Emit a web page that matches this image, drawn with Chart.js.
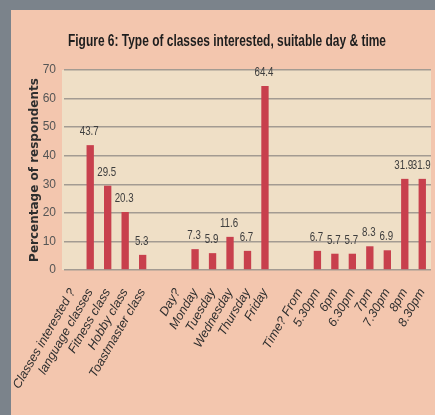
<!DOCTYPE html>
<html>
<head>
<meta charset="utf-8">
<script src="https://cdn.jsdelivr.net/npm/chart.js@4.4.1/dist/chart.umd.min.js"></script>
<style>
  html, body { margin: 0; padding: 0; background: #f3c6ae; }
  #wrap { width: 435px; height: 415px; position: relative; }
</style>
</head>
<body>
<div id="wrap"><canvas id="c" width="435" height="415"></canvas></div>
<script>
const categories = [
  'Classes interested ?', 'language classes', 'Fitness class', 'Hobby class', 'Toastmaster class',
  '', 'Day?', 'Monday', 'Tuesday', 'Wednesday', 'Thursday', 'Friday',
  '', 'Time? From', '5.30pm', '6pm', '6.30pm', '7pm', '7.30pm', '8pm', '8.30pm'
];
const percentages = [
  null, 43.7, 29.5, 20.3, 5.3,
  null, null, 7.3, 5.9, 11.6, 6.7, 64.4,
  null, null, 6.7, 5.7, 5.7, 8.3, 6.9, 31.9, 31.9
];
const yTicks = [0, 10, 20, 30, 40, 50, 60, 70];
const titleText = 'Figure 6: Type of classes interested, suitable day & time';
const yTitle = 'Percentage of respondents';

const SANS = "'Liberation Sans', Arial, sans-serif";

// draw text horizontally condensed (the original uses a narrow typeface)
function condensedText(ctx, text, x, y, squeeze) {
  ctx.save();
  ctx.translate(x, y);
  ctx.scale(squeeze, 1);
  ctx.fillText(text, 0, 0);
  ctx.restore();
}

const backdrop = {
  id: 'backdrop',
  beforeDraw(chart) {
    const ctx = chart.ctx, w = chart.width, h = chart.height, a = chart.chartArea;
    ctx.save();
    ctx.fillStyle = '#f3c6ae';
    ctx.fillRect(0, 0, w, h);
    ctx.fillStyle = '#7b838b';
    ctx.fillRect(0, 0, w, 10);
    ctx.fillRect(0, 0, 11, h);
    ctx.fillStyle = '#efdfc6';
    ctx.fillRect(a.left - 2, a.top, a.right - a.left + 2, a.bottom - a.top);
    ctx.restore();
  },
  afterDraw(chart) {
    const ctx = chart.ctx;
    ctx.save();
    ctx.fillStyle = '#1e1e1e';
    ctx.font = "bold 17px " + SANS;
    ctx.textAlign = 'left';
    ctx.textBaseline = 'middle';
    const natural = ctx.measureText(titleText).width;
    const target = 318;
    condensedText(ctx, titleText, 227 - target / 2, 41, target / natural);
    ctx.restore();
  }
};

const valueLabels = {
  id: 'valueLabels',
  afterDatasetsDraw(chart) {
    const ctx = chart.ctx;
    const meta = chart.getDatasetMeta(0);
    ctx.save();
    ctx.fillStyle = '#3d3d3d';
    ctx.font = "13.5px " + SANS;
    ctx.textAlign = 'center';
    ctx.textBaseline = 'alphabetic';
    meta.data.forEach((bar, i) => {
      const v = percentages[i];
      if (v === null) return;
      condensedText(ctx, String(v), bar.x - 1, bar.y - 10, 0.72);
    });
    ctx.restore();
  }
};

new Chart(document.getElementById('c'), {
  type: 'bar',
  data: {
    labels: categories,
    datasets: [{
      data: percentages,
      backgroundColor: '#c8404d',
      borderWidth: 0,
      barPercentage: 0.42,
      categoryPercentage: 1.0
    }]
  },
  options: {
    responsive: false,
    animation: false,
    devicePixelRatio: 1,
    layout: { padding: { top: 70, left: 0, right: 4, bottom: 0 } },
    plugins: {
      legend: { display: false },
      tooltip: { enabled: false },
      title: { display: false }
    },
    scales: {
      x: {
        grid: { display: false },
        border: { display: false },
        ticks: {
          autoSkip: false,
          minRotation: 60,
          maxRotation: 60,
          padding: 8,
          color: '#2e2e2e',
          font: { family: SANS, size: 12.5, style: 'italic' }
        },
        afterFit(scale) {
          scale.height = 145;
          scale.paddingLeft = 0;
          scale.paddingRight = 0;
        }
      },
      y: {
        min: 0,
        max: 70,
        afterBuildTicks(scale) { scale.ticks = yTicks.map(v => ({ value: v })); },
        grid: { color: '#a39b92', lineWidth: 1.5, drawTicks: false },
        border: { display: false },
        ticks: {
          padding: 8,
          color: '#555555',
          font: { family: SANS, size: 12 }
        },
        title: {
          display: true,
          text: yTitle,
          color: '#2e2e2e',
          font: { family: "'DejaVu Sans', sans-serif", size: 12, weight: 'bold' },
          padding: { top: 28, bottom: 4 }
        },
        afterFit(scale) {
          scale.width = 64;
          scale.paddingTop = 0;
          scale.paddingBottom = 0;
        }
      }
    }
  },
  plugins: [backdrop, valueLabels]
});
</script>
</body>
</html>
